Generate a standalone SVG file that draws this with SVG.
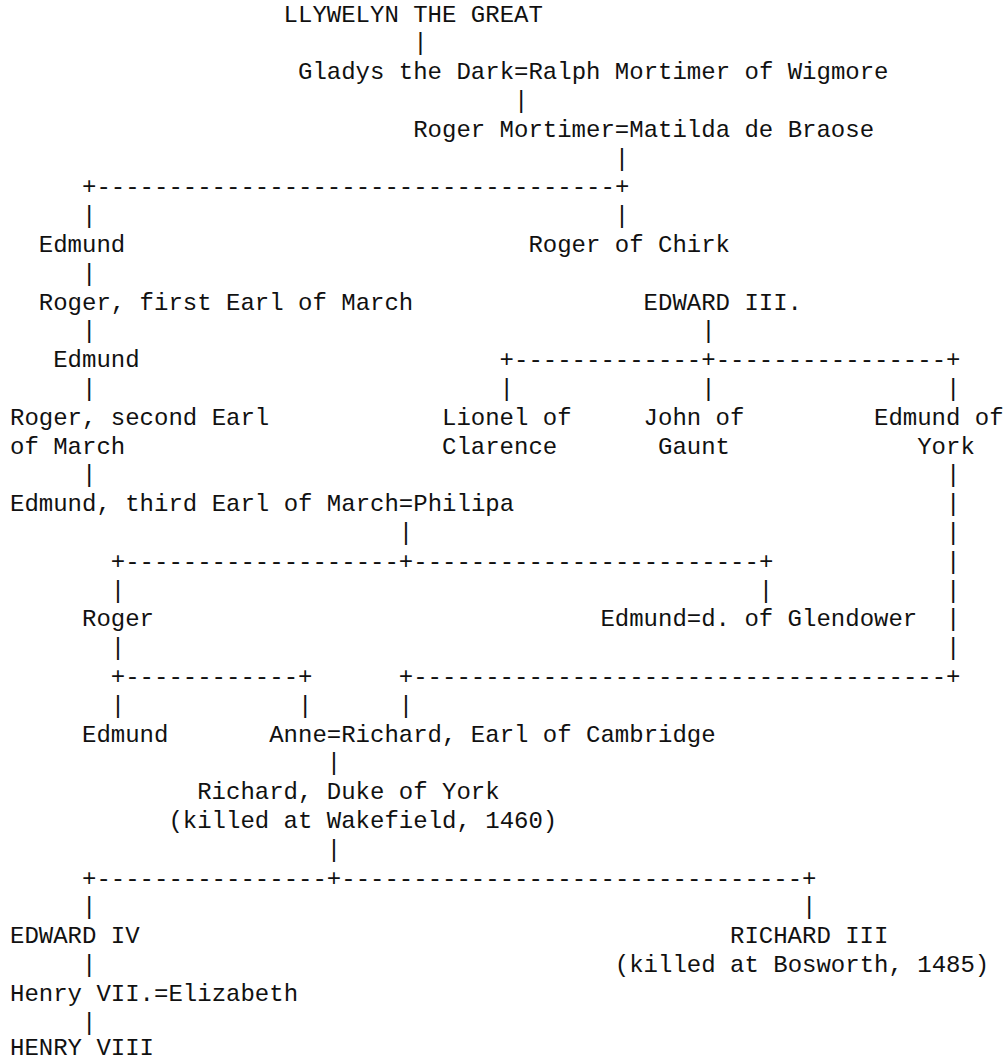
<svg xmlns="http://www.w3.org/2000/svg" width="1005" height="1063" viewBox="0 0 1005 1063">
<style>
text{font-family:"Liberation Mono","Courier New",monospace;font-size:24px;fill:#111;white-space:pre}
</style>
<rect width="1005" height="1063" fill="#fff"/>
<g id="connectors">
<text x="413.2" y="50.4">|</text>
<text x="514" y="108">|</text>
<text x="614.8" y="165.6">|</text>
<text x="82" y="194.4">+------------------------------------+</text>
<text x="82" y="223.2">|</text><text x="614.8" y="223.2">|</text>
<text x="82" y="280.8">|</text>
<text x="82" y="338.4">|</text><text x="701.2" y="338.4">|</text>
<text x="499.6" y="367.2">+-------------+----------------+</text>
<text x="82" y="396">|</text><text x="499.6" y="396">|</text><text x="701.2" y="396">|</text><text x="946" y="396">|</text>
<text x="82" y="482.4">|</text><text x="946" y="482.4">|</text>
<text x="946" y="511.2">|</text>
<text x="398.8" y="540">|</text><text x="946" y="540">|</text>
<text x="110.8" y="568.8">+-------------------+------------------------+</text><text x="946" y="568.8">|</text>
<text x="110.8" y="597.6">|</text><text x="758.8" y="597.6">|</text><text x="946" y="597.6">|</text>
<text x="946" y="626.4">|</text>
<text x="110.8" y="655.2">|</text><text x="946" y="655.2">|</text>
<text x="110.8" y="684">+------------+</text><text x="398.8" y="684">+-------------------------------------+</text>
<text x="110.8" y="712.8">|</text><text x="298" y="712.8">|</text><text x="398.8" y="712.8">|</text>
<text x="326.8" y="770.4">|</text>
<text x="326.8" y="856.8">|</text>
<text x="82" y="885.6">+----------------+--------------------------------+</text>
<text x="82" y="914.4">|</text><text x="802" y="914.4">|</text>
<text x="82" y="972">|</text>
<text x="82" y="1029.6">|</text>
</g>
<g id="llywelyn"><text x="283.6" y="21.6">LLYWELYN THE GREAT</text></g>
<g id="gladys"><text x="298" y="79.2">Gladys the Dark=Ralph Mortimer of Wigmore</text></g>
<g id="roger-mortimer"><text x="413.2" y="136.8">Roger Mortimer=Matilda de Braose</text></g>
<g id="edmund-1"><text x="38.8" y="252">Edmund</text></g>
<g id="roger-chirk"><text x="528.4" y="252">Roger of Chirk</text></g>
<g id="roger-first-earl"><text x="38.8" y="309.6">Roger, first Earl of March</text></g>
<g id="edward-iii"><text x="643.6" y="309.6">EDWARD III.</text></g>
<g id="edmund-2"><text x="53.2" y="367.2">Edmund</text></g>
<g id="roger-second-earl"><text x="10" y="424.8">Roger, second Earl</text><text x="10" y="453.6">of March</text></g>
<g id="lionel"><text x="442" y="424.8">Lionel of</text><text x="442" y="453.6">Clarence</text></g>
<g id="john-gaunt"><text x="643.6" y="424.8">John of</text><text x="658" y="453.6">Gaunt</text></g>
<g id="edmund-york"><text x="874" y="424.8">Edmund of</text><text x="917.2" y="453.6">York</text></g>
<g id="edmund-third-earl"><text x="10" y="511.2">Edmund, third Earl of March=Philipa</text></g>
<g id="roger-2"><text x="82" y="626.4">Roger</text></g>
<g id="edmund-glendower"><text x="600.4" y="626.4">Edmund=d. of Glendower</text></g>
<g id="edmund-3"><text x="82" y="741.6">Edmund</text></g>
<g id="anne-richard"><text x="269.2" y="741.6">Anne=Richard, Earl of Cambridge</text></g>
<g id="richard-york"><text x="197.2" y="799.2">Richard, Duke of York</text><text x="168.4" y="828">(killed at Wakefield, 1460)</text></g>
<g id="edward-iv"><text x="10" y="943.2">EDWARD IV</text></g>
<g id="richard-iii"><text x="730" y="943.2">RICHARD III</text><text x="614.8" y="972">(killed at Bosworth, 1485)</text></g>
<g id="henry-vii"><text x="10" y="1000.8">Henry VII.=Elizabeth</text></g>
<g id="henry-viii"><text x="10" y="1055.2">HENRY VIII</text></g>
</svg>
